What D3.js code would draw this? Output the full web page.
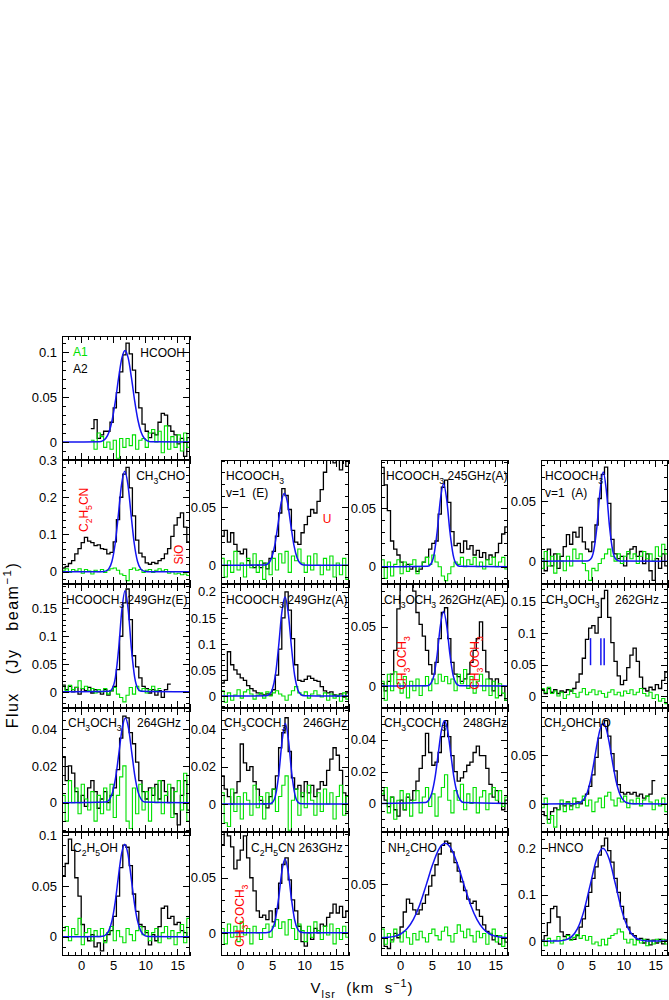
<!DOCTYPE html>
<html><head><meta charset="utf-8">
<script src="https://cdn.jsdelivr.net/npm/d3@7"></script>
<style>
body{margin:0;background:#fff}
svg{display:block}
text{font-family:"Liberation Sans",Arial,Helvetica,sans-serif;white-space:pre}
</style></head>
<body><svg id="c" width="669" height="1000"></svg>
<script>
// ---------------- DATA ----------------
const velRange = [-3, 17];
const chanWidth = 0.5;
const xMajorTicks = [0, 5, 10, 15];
const xMinorTicks = [-3,-2,-1,1,2,3,4,6,7,8,9,11,12,13,14,16,17];

// observed spectra (black), residuals (green): values per 0.5 km/s channel from start velocity
const obsHCOOH = [0.015,0.025,0.004,0.008,0.012,0.012,0.022,0.038,0.055,0.078,
  0.097,0.110,0.098,0.080,0.055,0.038,0.020,0.012,0.005,0.010,
  0.008,0.022,0.032,0.030,0.018,0.012,0.008,-0.002,0.004,-0.016,0.005];
const resHCOOH = [0.002,-0.008,0.010,0.006,-0.006,0.000,-0.008,0.002,-0.018,0.004,
  -0.006,0.004,-0.004,0.008,-0.008,0.002,0.004,-0.006,0.010,0.014,
  0.000,0.012,-0.012,0.018,-0.008,0.006,-0.006,0.008,-0.010,0.010,-0.006];
const fitHCOOH = [[-3,0],[2.85,0.0004],[3.35,0.0013],[3.85,0.0042],[4.35,0.0112],[4.85,0.0248],[5.35,0.046],[5.85,0.0716],[6.35,0.0933],[6.85,0.102],[7.35,0.0933],[7.85,0.0716],[8.35,0.046],[8.85,0.0248],[9.35,0.0112],[9.85,0.0042],[10.35,0.0013],[10.85,0.0004],[17,0]];

const obsCH3CHO = [0.010,0.014,0.022,0.030,0.048,0.062,0.078,0.092,0.082,0.078,
  0.070,0.072,0.062,0.060,0.048,0.052,0.080,0.140,0.200,0.262,
  0.280,0.225,0.150,0.085,0.050,0.040,0.024,0.020,0.025,0.022,
  0.030,0.035,0.048,0.062,0.095,0.125,0.145,0.158,0.120,0.080];
const resCH3CHO = [0.004,0.008,-0.002,0.006,0.002,0.008,-0.004,0.006,0.002,-0.006,
  0.004,0.000,0.006,-0.002,0.004,0.008,0.010,0.004,-0.006,-0.010,
  -0.024,0.006,0.010,0.004,0.006,-0.002,0.004,0.006,-0.002,0.004,
  0.008,0.002,0.006,-0.004,0.000,-0.006,-0.004,-0.008,-0.006,-0.010];
const fitCH3CHO = [[-3,0],[3.3,0.0002],[3.8,0.0016],[4.3,0.0075],[4.8,0.0273],[5.3,0.0744],[5.8,0.152],[6.3,0.234],[6.8,0.27],[7.3,0.234],[7.8,0.152],[8.3,0.0744],[8.8,0.0273],[9.3,0.0075],[9.8,0.0016],[10.3,0.0002],[17,0]];

const obsMFv1E = [0.025,0.030,0.020,0.028,0.018,0.012,0.010,0.014,0.004,0.000,
  -0.002,0.000,-0.002,0.002,-0.003,0.006,0.012,0.025,0.045,0.066,
  0.060,0.048,0.030,0.020,0.018,0.028,0.035,0.042,0.048,0.045,
  0.055,0.065,0.080,0.095,0.092,0.088,0.095,0.082,0.095,0.085];
const resMFv1E = [0.006,-0.010,0.004,-0.006,0.012,-0.004,0.002,-0.010,0.006,-0.002,
  0.010,-0.006,0.004,-0.012,0.002,-0.008,0.006,-0.004,0.010,0.002,
  0.012,-0.006,0.008,0.004,0.014,0.002,-0.006,0.008,-0.004,0.010,
  0.000,-0.008,0.006,-0.004,0.008,-0.010,0.002,-0.008,0.006,-0.012];
const fitMFv1E = [[-3,0],[3.9,0.0004],[4.4,0.0017],[4.9,0.0063],[5.4,0.0171],[5.9,0.035],[6.4,0.0538],[6.9,0.062],[7.4,0.0538],[7.9,0.035],[8.4,0.0171],[8.9,0.0063],[9.4,0.0017],[9.9,0.0004],[17,0]];

const obsMF245A = [0.085,0.070,0.048,0.022,0.015,0.010,0.004,0.000,0.002,-0.002,
  0.000,-0.004,-0.002,0.004,0.008,0.015,0.020,0.022,0.045,0.068,
  0.074,0.055,0.030,0.018,0.020,0.012,0.022,0.015,0.018,0.010,
  0.014,0.008,0.012,0.006,0.010,0.008,0.012,0.020,0.028,0.034];
const resMF245A = [0.006,-0.010,0.004,-0.008,0.002,0.006,-0.006,0.004,-0.004,0.002,
  0.006,-0.006,0.000,0.004,0.008,0.002,0.010,0.004,0.000,-0.008,
  -0.012,-0.006,0.000,0.004,0.002,0.008,0.000,0.006,0.002,0.008,
  0.000,0.004,-0.002,0.006,0.002,0.008,0.000,0.004,0.008,-0.002];
const fitMF245A = [[-3,0],[4.35,0.0003],[4.85,0.0023],[5.35,0.0104],[5.85,0.0302],[6.35,0.0573],[6.85,0.071],[7.35,0.0573],[7.85,0.0302],[8.35,0.0104],[8.85,0.0023],[9.35,0.0003],[17,0]];

const obsMFv1A = [0.002,-0.008,0.010,-0.004,0.006,-0.006,0.004,0.012,0.022,0.014,
  0.024,0.020,0.028,0.016,0.010,0.008,0.016,0.030,0.052,0.072,
  0.078,0.048,0.018,0.006,0.002,0.004,-0.004,0.006,0.010,0.012,
  0.004,0.008,-0.002,0.006,-0.008,-0.016,0.002,-0.006,0.006,-0.004];
const resMFv1A = [-0.006,0.008,-0.004,0.004,-0.010,0.006,0.000,-0.008,0.004,-0.004,
  0.010,0.002,0.006,-0.002,-0.008,-0.016,-0.006,-0.008,-0.002,0.002,
  0.006,0.010,0.004,0.000,0.006,-0.002,0.004,0.008,0.002,0.006,
  -0.002,0.004,0.008,0.002,0.006,0.000,0.012,0.004,0.014,0.006];
const fitMFv1A = [[-3,0],[4.3,0.0002],[4.8,0.0016],[5.3,0.0086],[5.8,0.0283],[6.3,0.0582],[6.8,0.074],[7.3,0.0582],[7.8,0.0283],[8.3,0.0086],[8.8,0.0016],[9.3,0.0002],[17,0]];

const obsMF249E = [0.012,0.004,0.010,0.000,0.008,-0.004,0.006,0.002,0.008,-0.002,
  0.004,0.000,-0.004,0.004,-0.006,0.002,0.010,0.040,0.100,0.160,
  0.185,0.130,0.065,0.045,0.025,0.010,0.006,-0.002,0.004,-0.006,
  0.002,-0.010,0.004,0.014];
const resMF249E = [0.010,0.002,0.012,0.004,0.008,0.020,0.006,0.010,0.002,0.006,
  -0.002,0.004,0.000,0.006,-0.004,0.002,0.008,-0.004,-0.010,-0.018,
  -0.006,0.008,-0.004,0.010,0.002,0.006,-0.002,0.004,0.010,0.002,0.006];
const fitMF249E = [[-3,0],[4.35,0.0009],[4.85,0.006],[5.35,0.0266],[5.85,0.0774],[6.35,0.147],[6.85,0.182],[7.35,0.147],[7.85,0.0774],[8.35,0.0266],[8.85,0.006],[9.35,0.0009],[17,0]];

const obsMF249A = [0.025,0.030,0.085,0.060,0.050,0.042,0.035,0.030,0.020,0.014,
  0.010,0.006,0.004,0.002,0.004,0.002,0.012,0.040,0.090,0.150,
  0.200,0.165,0.110,0.060,0.030,0.028,0.032,0.038,0.034,0.030,
  0.028,0.018,0.010,0.006,0.008,0.002,0.000,0.004,-0.002,0.006];
const resMF249A = [0.010,-0.012,0.006,-0.008,0.002,0.012,-0.004,0.008,0.012,0.004,
  -0.006,0.002,0.006,-0.004,0.008,0.000,0.006,0.010,0.004,0.000,
  -0.008,0.002,0.010,0.018,0.006,0.002,0.008,-0.004,0.004,0.010,
  0.002,-0.002,0.006,-0.008,0.004,-0.004,0.002,-0.010,0.006,-0.006];
const fitMF249A = [[-3,0],[4.0,0.0004],[4.5,0.0025],[5.0,0.0119],[5.5,0.0399],[6.0,0.095],[6.5,0.16],[7.0,0.19],[7.5,0.16],[8.0,0.095],[8.5,0.0399],[9.0,0.0119],[9.5,0.0025],[10.0,0.0004],[17,0]];

const obsDME262AE = [0.002,-0.004,0.004,0.010,0.030,0.065,0.088,0.095,0.095,0.092,
  0.080,0.062,0.052,0.042,0.030,0.018,0.010,0.020,0.040,0.062,
  0.066,0.040,0.020,0.010,0.008,0.004,0.006,0.010,0.020,0.030,
  0.040,0.054,0.030,0.012,0.006,-0.004,0.006,-0.008,0.000,-0.012];
const resDME262AE = [0.004,-0.012,0.010,-0.004,0.012,0.002,-0.006,0.008,-0.010,0.004,
  -0.004,0.006,-0.008,0.000,0.008,-0.004,0.006,0.002,0.010,0.004,
  0.008,0.002,0.006,-0.004,0.010,0.002,0.014,-0.002,0.008,-0.006,
  0.004,0.010,-0.004,0.006,-0.008,0.004,-0.010,0.002,-0.006,-0.012];
const fitDME262AE = [[-3,0],[4.35,0.0003],[4.85,0.0021],[5.35,0.0092],[5.85,0.0268],[6.35,0.0508],[6.85,0.063],[7.35,0.0508],[7.85,0.0268],[8.35,0.0092],[8.85,0.0021],[9.35,0.0003],[17,0]];

const obsDME262 = [0.010,0.004,0.012,0.006,0.010,0.004,0.008,0.006,0.010,0.008,
  0.012,0.022,0.035,0.060,0.090,0.108,0.112,0.100,0.125,0.155,
  0.168,0.125,0.085,0.055,0.032,0.018,0.025,0.045,0.065,0.076,
  0.055,0.030,0.012,0.008,0.014,0.010,0.018,0.012,0.025,0.038];
const resDME262 = [0.012,0.006,0.014,0.004,0.008,0.000,0.006,-0.004,0.002,0.010,
  0.004,-0.002,0.006,0.012,0.002,0.006,0.010,0.002,0.008,0.004,
  -0.002,0.006,0.010,0.002,0.006,0.000,0.008,0.004,0.010,0.002,
  0.006,0.012,0.004,0.000,0.006,-0.004,0.002,-0.008,-0.004,-0.012];
const markDME262V = [4.8, 6.43, 6.95];
const markDME262F = [0.049, 0.092];

const obsDME264 = [0.025,0.012,0.020,0.016,0.006,0.000,0.004,-0.002,0.008,0.012,
  0.006,-0.003,0.002,0.006,0.000,0.004,0.008,0.018,0.035,0.047,
  0.046,0.038,0.032,0.022,0.012,0.006,0.002,0.008,0.004,0.010,
  0.002,0.012,0.006,0.000,0.008,-0.006,-0.012,0.004,0.012,-0.004];
const resDME264 = [0.004,-0.010,0.012,0.000,0.008,-0.006,0.010,0.002,-0.004,0.006,
  -0.010,0.004,-0.006,0.008,-0.004,0.010,-0.008,0.004,0.014,0.020,
  -0.010,-0.014,0.008,-0.006,0.010,-0.004,0.006,-0.010,0.008,0.000,
  0.012,-0.006,0.004,0.010,-0.008,0.006,0.012,-0.004,0.016,-0.010];
const fitDME264 = [[-3,0],[3.9,0.0004],[4.4,0.0017],[4.9,0.0056],[5.4,0.0141],[5.9,0.0272],[6.4,0.0403],[6.9,0.046],[7.4,0.0403],[7.9,0.0272],[8.4,0.0141],[8.9,0.0056],[9.4,0.0017],[9.9,0.0004],[17,0]];

const obsAce246 = [0.015,0.008,0.004,0.000,0.006,0.012,0.032,0.022,0.018,0.020,
  0.012,0.008,0.002,0.000,-0.002,0.004,0.008,0.015,0.030,0.038,
  0.046,0.028,0.014,0.008,0.010,0.004,0.012,0.006,0.010,0.004,
  0.008,0.012,0.010,0.018,0.024,0.030,0.026,0.018,0.006,-0.004];
const resAce246 = [0.006,-0.010,-0.012,0.008,-0.004,0.004,-0.008,0.006,0.002,-0.006,
  0.010,-0.002,0.004,-0.008,0.006,0.000,0.008,-0.004,0.004,0.010,
  0.015,-0.014,0.002,0.008,-0.006,0.006,-0.002,0.010,0.002,-0.006,
  0.006,-0.004,0.008,0.000,0.006,-0.008,0.004,0.010,-0.006,0.004];
const fitAce246 = [[-3,0],[4.55,0.0001],[5.05,0.0009],[5.55,0.005],[6.05,0.0165],[6.55,0.0338],[7.05,0.043],[7.55,0.0338],[8.05,0.0165],[8.55,0.005],[9.05,0.0009],[9.55,0.0001],[17,0]];

const obsAce248 = [0.008,0.002,-0.002,0.004,-0.004,-0.008,0.002,-0.004,0.004,0.002,
  0.008,0.014,0.022,0.030,0.044,0.032,0.024,0.026,0.032,0.042,
  0.052,0.042,0.030,0.020,0.014,0.016,0.020,0.024,0.026,0.032,
  0.036,0.030,0.030,0.022,0.012,0.004,0.008,0.000,-0.004,0.002];
const resAce248 = [0.006,0.010,-0.006,0.004,-0.010,0.002,0.008,-0.004,0.006,-0.008,
  0.002,0.008,-0.006,0.004,0.010,-0.002,0.006,-0.008,0.004,0.010,
  0.018,0.002,-0.006,0.008,0.002,0.012,-0.004,0.006,0.000,0.010,
  -0.006,0.004,0.008,-0.004,0.006,0.010,0.002,0.008,-0.002,0.004];
const fitAce248 = [[-3,0],[4.0,0.0005],[4.5,0.002],[5.0,0.0064],[5.5,0.016],[6.0,0.0308],[6.5,0.0456],[7.0,0.052],[7.5,0.0456],[8.0,0.0308],[8.5,0.016],[9.0,0.0064],[9.5,0.002],[10.0,0.0005],[17,0]];

const obsGlyc = [-0.008,-0.012,-0.016,-0.008,-0.004,-0.006,0.000,-0.002,0.002,-0.002,
  0.000,0.002,0.000,0.004,0.010,0.018,0.030,0.048,0.068,0.082,
  0.086,0.070,0.052,0.034,0.020,0.012,0.010,0.012,0.010,0.012,
  0.008,0.010,0.006,0.008,0.010,0.024];
const resGlyc = [-0.004,0.006,-0.020,-0.012,-0.024,-0.006,0.004,-0.008,0.002,-0.006,
  0.006,-0.004,0.002,0.008,-0.002,0.004,-0.008,0.002,0.006,-0.004,
  0.008,0.012,0.004,-0.002,0.006,0.002,0.008,-0.004,0.004,0.000,
  0.006,-0.002,0.004,0.008,0.002,-0.006,0.004,-0.002,0.006,-0.008];
const fitGlyc = [[-3,0],[2.3,0.0002],[2.8,0.0006],[3.3,0.0019],[3.8,0.0052],[4.3,0.0121],[4.8,0.0242],[5.3,0.0415],[5.8,0.061],[6.3,0.0769],[6.8,0.083],[7.3,0.0769],[7.8,0.061],[8.3,0.0415],[8.8,0.0242],[9.3,0.0121],[9.8,0.0052],[10.3,0.0019],[10.8,0.0006],[11.3,0.0002],[17,0]];

const obsEtOH = [0.060,0.072,0.096,0.085,0.058,0.040,0.012,0.000,-0.004,0.002,
  -0.010,-0.006,-0.014,-0.004,0.002,0.006,0.020,0.040,0.068,0.090,
  0.088,0.070,0.042,0.025,0.012,0.010,0.004,-0.008,0.002,-0.004,
  0.010,0.028,0.030,0.018,0.020,0.012,0.014,0.006,0.004,0.000];
const resEtOH = [0.006,0.010,-0.004,0.008,0.002,0.018,-0.008,0.004,0.008,-0.004,
  0.006,0.000,0.008,-0.006,0.004,0.010,-0.004,0.006,0.000,-0.006,
  0.008,0.002,-0.004,0.006,0.010,0.002,0.006,-0.004,0.004,0.008,
  -0.006,0.004,0.010,-0.002,0.006,-0.008,0.004,0.012,-0.006,0.018];
const fitEtOH = [[-3,0],[2.8,0.0001],[3.3,0.0004],[3.8,0.0017],[4.3,0.0057],[4.8,0.0155],[5.3,0.0336],[5.8,0.0584],[6.3,0.0814],[6.8,0.091],[7.3,0.0814],[7.8,0.0584],[8.3,0.0336],[8.8,0.0155],[9.3,0.0057],[9.8,0.0017],[10.3,0.0004],[10.8,0.0001],[17,0]];

const obsEtCN = [0.080,0.095,0.088,0.078,0.058,0.066,0.075,0.088,0.068,0.050,
  0.038,0.020,0.014,0.016,0.012,0.020,0.010,0.022,0.045,0.062,
  0.068,0.048,0.030,0.020,0.006,-0.008,-0.012,0.000,-0.006,0.004,
  0.000,0.008,0.006,0.014,0.018,0.026,0.018,0.024,0.014,0.020];
const resEtCN = [0.004,-0.010,0.008,-0.004,0.006,-0.008,0.010,-0.002,0.004,-0.010,
  0.006,0.000,-0.006,0.004,0.008,-0.004,0.006,0.012,0.004,0.010,
  -0.002,0.012,0.004,-0.006,0.008,0.002,-0.008,0.006,-0.004,0.010,
  0.002,-0.006,0.006,-0.002,0.008,-0.010,0.004,-0.006,0.006,-0.004];
const fitEtCN = [[-3,0],[4.0,0.0001],[4.5,0.0005],[5.0,0.0031],[5.5,0.0119],[6.0,0.0311],[6.5,0.0553],[7.0,0.067],[7.5,0.0553],[8.0,0.0311],[8.5,0.0119],[9.0,0.0031],[9.5,0.0005],[10.0,0.0001],[17,0]];

const obsNH2CHO = [0.000,-0.008,-0.010,-0.002,0.004,0.000,0.010,0.024,0.036,0.032,
  0.026,0.022,0.026,0.032,0.040,0.048,0.058,0.068,0.078,0.086,
  0.090,0.088,0.080,0.070,0.062,0.052,0.044,0.036,0.032,0.034,
  0.026,0.020,0.012,0.006,0.004,-0.002,0.002,-0.006,0.000,-0.004];
const resNH2CHO = [0.008,-0.006,0.004,-0.004,0.008,0.002,-0.004,0.006,0.000,-0.006,
  0.004,-0.002,0.006,0.000,-0.004,0.004,0.008,0.002,-0.002,0.006,
  0.010,0.002,-0.004,0.004,0.012,0.006,0.000,0.008,0.002,-0.004,
  0.006,0.000,0.004,-0.006,0.004,0.008,-0.004,0.002,-0.008,0.004];
const fitNH2CHO = [[-3,0.0001],[-1.9,0.0004],[-0.9,0.0013],[0.1,0.0035],[1.1,0.0083],[2.1,0.0171],[3.1,0.0308],[4.1,0.0488],[5.1,0.0677],[6.1,0.0824],[7.1,0.088],[8.1,0.0824],[9.1,0.0677],[10.1,0.0488],[11.1,0.0308],[12.1,0.0171],[13.1,0.0083],[14.1,0.0035],[15.1,0.0013],[16.1,0.0004],[17,0.0001]];

const obsHNCO = [0.002,0.012,0.040,0.070,0.075,0.052,0.020,0.010,0.014,0.004,
  0.004,0.012,0.030,0.048,0.075,0.105,0.135,0.160,0.185,0.205,
  0.222,0.195,0.170,0.135,0.105,0.075,0.048,0.030,0.016,0.012,
  0.004,0.006,-0.004,0.004,-0.008,0.002,-0.004,0.004,-0.006,0.002];
const resHNCO = [0.000,-0.010,0.006,-0.004,0.002,0.010,-0.006,0.004,0.012,0.002,
  0.008,0.014,0.006,0.012,0.002,0.010,-0.006,-0.002,-0.010,0.004,
  -0.008,0.006,0.012,0.016,0.026,0.020,0.004,-0.004,0.004,-0.008,
  0.002,-0.004,0.004,-0.010,0.002,-0.006,0.004,-0.002,0.004,-0.006];
const fitHNCO = [[-3,0],[-1.25,0.0001],[-0.25,0.0004],[0.75,0.0022],[1.75,0.0087],[2.75,0.0268],[3.75,0.0646],[4.75,0.121],[5.75,0.1764],[6.75,0.2],[7.75,0.1764],[8.75,0.121],[9.75,0.0646],[10.75,0.0268],[11.75,0.0087],[12.75,0.0022],[13.75,0.0004],[14.75,0.0001],[17,0]];

// ---------------- LAYOUT TABLE ----------------
const colX = [62, 221, 381, 541];
const colW = [128, 128, 127, 127];
const rowY = [336, 460, 584, 708, 832];
const rowH = 124;

const panels = [
 {c:0,r:0,dom:[-0.02,0.118],tk:[0,0.05,0.1],mn:0.01,obs:obsHCOOH,o0:1.5,res:resHCOOH,r0:1.5,fit:fitHCOOH,
  titles:[{t:"HCOOH",x:-5,y:21,end:true},{t:"A1",x:11,y:20,col:"#00e000"},{t:"A2",x:11,y:37}]},
 {c:0,r:1,dom:[-0.033,0.3],tk:[0,0.1,0.2,0.3],mn:0.02,obs:obsCH3CHO,o0:-3,res:resCH3CHO,r0:-3,fit:fitCH3CHO,
  titles:[{t:"CH_{3}CHO",x:-5,y:20,end:true}],
  notes:[{t:"C_{2}H_{5}CN",v:1.06,f:0.166,rot:true},{t:"SiO",v:15.9,f:0.046,rot:true}]},
 {c:1,r:1,dom:[-0.016,0.0905],tk:[0,0.05],mn:0.01,obs:obsMFv1E,o0:-3,res:resMFv1E,r0:-3,fit:fitMFv1E,
  titles:[{t:"HCOOCH_{3}",x:5,y:20},{t:"v=1  (E)",x:5,y:37}],
  notes:[{t:"U",v:12.9,f:0.036}]},
 {c:2,r:1,dom:[-0.0148,0.0913],tk:[0,0.05],mn:0.01,obs:obsMF245A,o0:-3,res:resMF245A,r0:-3,fit:fitMF245A,
  titles:[{t:"HCOOCH_{3} 245GHz(A)",x:5,y:20}]},
 {c:3,r:1,dom:[-0.019,0.084],tk:[0,0.05],mn:0.01,obs:obsMFv1A,o0:-3,res:resMFv1A,r0:-3,fit:fitMFv1A,
  titles:[{t:"HCOOCH_{3}",x:4,y:20},{t:"v=1  (A)",x:4,y:37}]},
 {c:0,r:2,dom:[-0.029,0.194],tk:[0,0.05,0.1,0.15],mn:0.01,obs:obsMF249E,o0:-3,res:resMF249E,r0:-3,fit:fitMF249E,
  titles:[{t:"HCOOCH_{3} 249GHz(E)",x:4,y:20}]},
 {c:1,r:2,dom:[-0.023,0.215],tk:[0,0.05,0.1,0.15,0.2],mn:0.01,obs:obsMF249A,o0:-3,res:resMF249A,r0:-3,fit:fitMF249A,
  titles:[{t:"HCOOCH_{3} 249GHz(A)",x:5,y:20}]},
 {c:2,r:2,dom:[-0.0185,0.086],tk:[0,0.05],mn:0.01,obs:obsDME262AE,o0:-3,res:resDME262AE,r0:-3,fit:fitDME262AE,
  titles:[{t:"CH_{3}OCH_{3} 262GHz(AE)",x:3,y:20,ls:-0.25}],
  notes:[{t:"CH_{3}OCH_{3}",v:1.0,f:0.0194,rot:true},{t:"CH_{3}OCH_{3}",v:12.45,f:0.0194,rot:true}]},
 {c:3,r:2,dom:[-0.019,0.178],tk:[0,0.05,0.1,0.15],mn:0.01,obs:obsDME262,o0:-3,res:resDME262,r0:-3,fit:null,
  titles:[{t:"CH_{3}OCH_{3}",x:5,y:20},{t:"262GHz",x:74,y:20}], marks:true},
 {c:0,r:3,dom:[-0.0159,0.0514],tk:[0,0.02,0.04],mn:0.005,obs:obsDME264,o0:-3,res:resDME264,r0:-3,fit:fitDME264,
  titles:[{t:"CH_{3}OCH_{3}",x:6,y:19},{t:"264GHz",x:75,y:19}]},
 {c:1,r:3,dom:[-0.0149,0.0512],tk:[0,0.02,0.04],mn:0.005,obs:obsAce246,o0:-3,res:resAce246,r0:-3,fit:fitAce246,
  titles:[{t:"CH_{3}COCH_{3}",x:3,y:19},{t:"246GHz",x:82,y:19}]},
 {c:2,r:3,dom:[-0.018,0.060],tk:[0,0.02,0.04],mn:0.005,obs:obsAce248,o0:-3,res:resAce248,r0:-3,fit:fitAce248,
  titles:[{t:"CH_{3}COCH_{3}",x:3,y:19},{t:"248GHz",x:82,y:19}]},
 {c:3,r:3,dom:[-0.029,0.099],tk:[0,0.05],mn:0.01,obs:obsGlyc,o0:-3,res:resGlyc,r0:-3,fit:fitGlyc,
  titles:[{t:"CH_{2}OHCHO",x:3,y:19}]},
 {c:0,r:4,dom:[-0.019,0.103],tk:[0,0.05,0.1],mn:0.01,obs:obsEtOH,o0:-3,res:resEtOH,r0:-3,fit:fitEtOH,
  titles:[{t:"C_{2}H_{5}OH",x:11,y:20}]},
 {c:1,r:4,dom:[-0.021,0.0915],tk:[0,0.05],mn:0.01,obs:obsEtCN,o0:-3,res:resEtCN,r0:-3,fit:fitEtCN,
  titles:[{t:"C_{2}H_{5}CN 263GHz",x:30,y:20}],
  notes:[{t:"CH_{3}COCH_{3}",v:0.65,f:0.0155,rot:true}]},
 {c:2,r:4,dom:[-0.017,0.0985],tk:[0,0.05],mn:0.01,obs:obsNH2CHO,o0:-3,res:resNH2CHO,r0:-3,fit:fitNH2CHO,
  titles:[{t:"NH_{2}CHO",x:7,y:20}]},
 {c:3,r:4,dom:[-0.032,0.235],tk:[0,0.1,0.2],mn:0.02,obs:obsHNCO,o0:-3,res:resHNCO,r0:-3,fit:fitHNCO,
  titles:[{t:"HNCO",x:7,y:20}]}
];

// ---------------- DRAW ----------------
const svg = d3.select("#c");
const FS = 12, TFS = 13;
const GREEN = "#00e000", BLUE = "#1414f0", RED = "#ff0000";

function rich(sel, str, fs) {
  const parts = str.split(/(_\{[^}]*\}|\^\{[^}]*\})/).filter(s => s.length);
  let shift = 0;
  parts.forEach(s => {
    let target = 0, content = s, size = fs;
    if (s.startsWith("_{")) { target = fs * 0.32; content = s.slice(2, -1); size = fs * 0.72; }
    else if (s.startsWith("^{")) { target = -fs * 0.42; content = s.slice(2, -1); size = fs * 0.72; }
    sel.append("tspan").attr("dy", target - shift).attr("font-size", size).text(content);
    shift = target;
  });
}

function stepPts(arr, start) {
  const pts = arr.map((y, i) => [start + i * chanWidth, y]);
  pts.push([start + arr.length * chanWidth, arr[arr.length - 1]]);
  return pts;
}

const fmt = v => String(+v.toFixed(3));

panels.forEach((p, i) => {
  const x0 = colX[p.c], w = colW[p.c], y0 = rowY[p.r], h = rowH;
  const xs = d3.scaleLinear().domain(velRange).range([x0, x0 + w]);
  const ys = d3.scaleLinear().domain(p.dom).range([y0 + h, y0]);
  const g = svg.append("g");
  const cid = "clip" + i;
  g.append("clipPath").attr("id", cid).append("rect")
    .attr("x", x0).attr("y", y0).attr("width", w).attr("height", h);
  const dg = g.append("g").attr("clip-path", `url(#${cid})`);
  const stepLine = d3.line().x(d => xs(d[0])).y(d => ys(d[1])).curve(d3.curveStepAfter);
  const smooth = d3.line().x(d => xs(d[0])).y(d => ys(d[1])).curve(d3.curveMonotoneX);

  dg.append("path").attr("d", stepLine(stepPts(p.obs, p.o0)))
    .attr("fill", "none").attr("stroke", "#000").attr("stroke-width", 1.3);
  dg.append("path").attr("d", stepLine(stepPts(p.res, p.r0)))
    .attr("fill", "none").attr("stroke", GREEN).attr("stroke-width", 1.1);
  if (p.fit) {
    dg.append("path").attr("d", smooth(p.fit))
      .attr("fill", "none").attr("stroke", BLUE).attr("stroke-width", 1.5);
  }
  if (p.marks) {
    markDME262V.forEach(v => {
      dg.append("line").attr("x1", xs(v)).attr("x2", xs(v))
        .attr("y1", ys(markDME262F[0])).attr("y2", ys(markDME262F[1]))
        .attr("stroke", BLUE).attr("stroke-width", 1.5);
    });
  }

  const isBottom = p.r === 4;
  const minorY = d3.range(Math.ceil(p.dom[0] / p.mn), Math.floor(p.dom[1] / p.mn) + 1)
    .map(k => +(k * p.mn).toFixed(4))
    .filter(v => !p.tk.some(t => Math.abs(t - v) < 1e-6));
  const ax = g.append("g").attr("shape-rendering", "crispEdges");
  const style = s => { s.select(".domain").remove(); s.selectAll("line").attr("stroke", "#000"); s.selectAll("text").attr("font-size", TFS).attr("font-family", null).attr("fill", "#000"); };

  ax.append("g").attr("transform", `translate(0,${y0 + h})`)
    .call(d3.axisBottom(xs).tickValues(xMajorTicks).tickSizeInner(-7).tickSizeOuter(0).tickPadding(5)
      .tickFormat(isBottom ? d3.format("d") : () => "")).call(style);
  ax.append("g").attr("transform", `translate(0,${y0 + h})`)
    .call(d3.axisBottom(xs).tickValues(xMinorTicks).tickSizeInner(-4).tickSizeOuter(0).tickFormat(() => "")).call(style);
  ax.append("g").attr("transform", `translate(0,${y0})`)
    .call(d3.axisTop(xs).tickValues(xMajorTicks).tickSizeInner(-7).tickSizeOuter(0).tickFormat(() => "")).call(style);
  ax.append("g").attr("transform", `translate(0,${y0})`)
    .call(d3.axisTop(xs).tickValues(xMinorTicks).tickSizeInner(-4).tickSizeOuter(0).tickFormat(() => "")).call(style);
  ax.append("g").attr("transform", `translate(${x0},0)`)
    .call(d3.axisLeft(ys).tickValues(p.tk).tickSizeInner(-7).tickSizeOuter(0).tickPadding(5).tickFormat(fmt)).call(style);
  ax.append("g").attr("transform", `translate(${x0},0)`)
    .call(d3.axisLeft(ys).tickValues(minorY).tickSizeInner(-4).tickSizeOuter(0).tickFormat(() => "")).call(style);
  ax.append("g").attr("transform", `translate(${x0 + w},0)`)
    .call(d3.axisRight(ys).tickValues(p.tk).tickSizeInner(-7).tickSizeOuter(0).tickFormat(() => "")).call(style);
  ax.append("g").attr("transform", `translate(${x0 + w},0)`)
    .call(d3.axisRight(ys).tickValues(minorY).tickSizeInner(-4).tickSizeOuter(0).tickFormat(() => "")).call(style);

  g.append("rect").attr("x", x0 + 0.5).attr("y", y0 + 0.5).attr("width", w - 1).attr("height", h - 1)
    .attr("fill", "none").attr("stroke", "#000").attr("stroke-width", 1).attr("shape-rendering", "crispEdges");

  (p.titles || []).forEach(t => {
    const tx = t.end ? x0 + w + t.x : x0 + t.x;
    const te = g.append("text").attr("x", tx).attr("y", y0 + t.y)
      .attr("text-anchor", t.end ? "end" : "start").attr("fill", t.col || "#000").attr("font-size", FS);
    if (t.ls) te.attr("letter-spacing", t.ls);
    rich(te, t.t, FS);
  });
  (p.notes || []).forEach(n => {
    const tg = g.append("g").attr("transform", `translate(${xs(n.v)},${ys(n.f)})` + (n.rot ? " rotate(-90)" : ""));
    const te = tg.append("text").attr("text-anchor", n.rot ? "middle" : "start").attr("fill", RED).attr("font-size", FS);
    rich(te, n.t, FS);
  });
});

// axis titles
const yt = svg.append("text").attr("transform", "translate(18,645) rotate(-90)")
  .attr("text-anchor", "middle").attr("font-size", 16).attr("letter-spacing", 1.5);
rich(yt, "Flux   (Jy   beam^{−1})", 16);
const xt = svg.append("text").attr("x", 362).attr("y", 993)
  .attr("text-anchor", "middle").attr("font-size", 15).attr("letter-spacing", 1);
rich(xt, "V_{lsr}  (km  s^{−1})", 15);
</script>
</body></html>
